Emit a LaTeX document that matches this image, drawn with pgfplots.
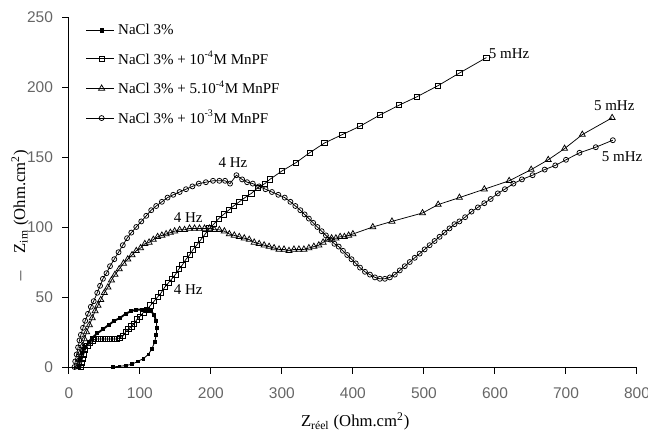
\documentclass[border=0pt]{standalone}
\usepackage{pgfplots}
\pgfplotsset{compat=1.18}
\usepackage{fontspec}
\setmainfont{Liberation Serif}
\newfontfamily\arial{Liberation Sans}

\begin{document}
\begin{tikzpicture}
\path[use as bounding box] (-41.3pt,-40.2pt) rectangle (347.5pt,220.2pt);
\begin{axis}[
    at={(0,0)}, anchor=south west,
    scale only axis,
    width=340.9pt, height=210pt,
    xmin=0, xmax=800, ymin=0, ymax=250,
    xtick={0,100,...,800},
    ytick={0,50,...,250},
    axis lines=left,
    axis line style={-, line width=0.6pt},
    tick align=outside,
    major tick length=4pt,
    tick style={line width=0.6pt, black},
    /pgf/number format/assume math mode=true,
    ticklabel style={font=\arial\fontsize{9.3}{10}\selectfont, text=black!60},
    xticklabel style={yshift=-5pt},
    yticklabel style={xshift=-2pt},
    clip=false,
    xlabel={Z\textsubscript{réel} (Ohm.cm\textsuperscript{2})},
    xlabel style={font=\fontsize{10}{12}\selectfont, at={(axis description cs:0.504,-0.0)}, anchor=north, yshift=-24pt},
    ylabel={$-$\quad Z\textsubscript{im} (Ohm.cm\textsuperscript{2})},
    ylabel style={font=\fontsize{10}{12}\selectfont, at={(axis description cs:-0.086,0.43)}, anchor=center},
    legend cell align=left,
    legend style={draw=none, fill=none, at={(axis description cs:0.02,1.0)}, anchor=north west,
        font=\fontsize{9}{10}\selectfont, row sep=4.5pt},
    legend image code/.code={\draw[#1] (0cm,0cm) -- (0.58cm,0cm); \draw[#1, only marks] plot coordinates {(0.32cm,0cm)};},
    every axis plot/.append style={black, line width=0.45pt},
]
% NaCl 3% (upper branch, thick)
\addplot[mark=square*, mark size=0.7pt, line width=1.1pt, mark options={solid, fill=black}] coordinates {
(14,0) (16,5) (19,10) (23,14) (28,18) (33,21) (40,24) (48,27) (56,30) (64,33) (72,35) (80,38) (88,40) (95,41) (103,41) (110,41) (116,40) (120,37) (123,33)
};
\addlegendentry{NaCl 3\%}
% NaCl 3% (lower branch)
\addplot[forget plot, mark=square*, mark size=0.8pt, line width=0.5pt, mark options={solid, fill=black}] coordinates {
(123,33) (124,28) (123,23) (121,18) (117,13) (112,9) (105,6) (97,4) (89,2) (80,1) (71,0.5) (62,0)
};
% 10^-4 M
\addplot[mark=square, mark size=1.6pt, mark options={solid, fill=white, line width=0.45pt}] coordinates {
(17,0) (18,3) (19,6) (21,9) (23,12) (26,15) (30,17) (34,19) (38,20) (43,20) (48,20) (53,20) (58,20) (63,20) (68,20) (72,21) (76,22) (80,25) (84,27) (88,29) (92,31) (96,34) (100,36) (105,39) (110,41) (115,44) (120,47) (125,50) (130,53) (135,57) (140,60) (145,63) (150,66) (155,70) (160,73) (165,77) (170,80) (175,84) (180,87) (186,91) (192,95) (198,99) (204,102) (211,106) (218,109) (225,112) (232,115) (240,118) (248,121) (257,124) (266,128) (276,131) (283,134) (300,140) (320,146) (339,153) (360,160) (385,166) (410,172) (438,180) (465,187) (490,193) (520,201) (550,210) (588,221)
};
\addlegendentry{NaCl 3\% + 10\textsuperscript{-4}M MnPF}
% 5.10^-4 M
\addplot[mark=triangle, mark size=2.1pt, mark options={solid, fill=white, line width=0.45pt}] coordinates {
(12,0) (14,5) (16,10) (19,15) (22,20) (25,25) (29,30) (33,35) (37,40) (41,44) (45,48) (50,53) (55,57) (60,62) (65,66) (71,70) (77,74) (83,77) (89,80) (95,83) (101,85) (107,88) (113,89) (119,91) (125,93) (131,94) (137,95) (143,96) (149,97) (156,98) (163,98) (170,99) (177,99) (184,99) (191,99) (198,99) (205,98) (212,98) (219,97) (226,95) (233,94) (240,93) (247,92) (254,91) (261,89) (268,88) (275,87) (282,86) (289,85) (296,84) (303,84) (310,83) (317,84) (324,84) (331,84) (338,85) (345,86) (352,87) (358,89) (364,91) (370,92) (376,92) (382,93) (388,93) (394,94) (400,95) (428,100) (455,104) (498,110) (520,116) (550,121) (585,127) (620,133) (651,141) (675,148) (698,156) (723,166) (765,178)
};
\addlegendentry{NaCl 3\% + 5.10\textsuperscript{-4}M MnPF}
% 10^-3 M
\addplot[mark=o, mark size=1.5pt, mark options={solid, fill=white, line width=0.45pt}] coordinates {
(8,0) (9,4) (11,9) (13,14) (15,19) (17,23) (20,28) (23,33) (27,38) (31,43) (35,47) (40,53) (44,58) (48,63) (53,67) (58,72) (64,77) (70,82) (76,87) (82,92) (88,96) (95,100) (102,104) (109,108) (116,112) (123,115) (131,118) (139,121) (147,123) (156,125) (165,127) (174,129) (183,131) (193,132) (203,133) (212,133) (220,133) (227,131) (236,137) (244,134) (251,132) (259,131) (268,129) (277,127) (286,125) (295,123) (304,121) (312,118) (319,115) (326,112) (332,109) (338,106) (344,103) (350,100) (356,97) (362,94) (368,91) (374,88) (380,86) (386,83) (392,80) (398,77) (404,74) (410,71) (417,68) (424,66) (431,64) (438,63) (445,63) (452,64) (459,66) (466,69) (473,72) (480,75) (487,78) (494,81) (501,84) (508,87) (515,90) (522,93) (529,96) (536,99) (543,102) (550,104) (558,107) (567,111) (576,114) (585,117) (594,120) (604,124) (614,127) (626,131) (638,134) (653,137) (670,141) (685,144) (700,148) (719,153) (742,157) (766,162)
};
\addlegendentry{NaCl 3\% + 10\textsuperscript{-3}M MnPF}

\node[font=\fontsize{9}{10}\selectfont] at (axis cs:168,55) {4 Hz};
\node[font=\fontsize{9}{10}\selectfont] at (axis cs:168,107) {4 Hz};
\node[font=\fontsize{9}{10}\selectfont] at (axis cs:231,146) {4 Hz};
\node[font=\fontsize{9}{10}\selectfont] at (axis cs:620,224) {5 mHz};
\node[font=\fontsize{9}{10}\selectfont] at (axis cs:768,187) {5 mHz};
\node[font=\fontsize{9}{10}\selectfont] at (axis cs:779,150) {5 mHz};
\end{axis}
\end{tikzpicture}
\end{document}
